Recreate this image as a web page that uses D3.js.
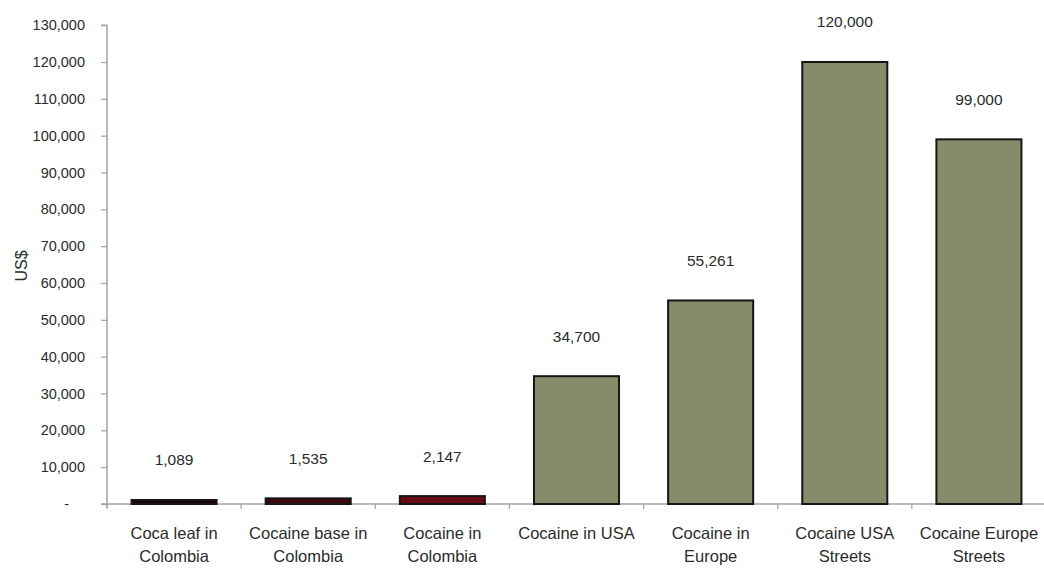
<!DOCTYPE html>
<html>
<head>
<meta charset="utf-8">
<script src="https://cdn.jsdelivr.net/npm/d3@7"></script>
<style>
  html, body { margin: 0; padding: 0; background: #ffffff; }
  svg { display: block; font-family: "Liberation Sans", Arial, sans-serif; }
</style>
</head>
<body>
<svg id="chart" width="1044" height="571"></svg>
<script>
// Price of cocaine along the supply chain (US$ per kg equivalent)
const categories = [
  "Coca leaf in\nColombia",
  "Cocaine base in\nColombia",
  "Cocaine in\nColombia",
  "Cocaine in USA",
  "Cocaine in\nEurope",
  "Cocaine USA\nStreets",
  "Cocaine Europe\nStreets"
];
const values = [1089, 1535, 2147, 34700, 55261, 120000, 99000];
const yTicks = [0, 10000, 20000, 30000, 40000, 50000, 60000, 70000, 80000, 90000, 100000, 110000, 120000, 130000];
const yTitle = "US$";

// Fill colours: dark reds for the Colombian stages, olive for the export markets
const fills = ["#1e0608", "#3c080b", "#6a0913", "#868b6a", "#868b6a", "#868b6a", "#868b6a"];

const svg = d3.select("#chart");
const x0 = 107, x1 = 1046;

const x = d3.scaleBand()
  .domain(categories)
  .range([x0, x1])
  .paddingInner(0.366)
  .paddingOuter(0.183);

const y = d3.scaleLinear()
  .domain([0, 120000])
  .range([504, 62]);

const textColor = "#2b2b2b";
const axisColor = "#a3a3a3";

// Y axis
const yAxis = svg.append("g")
  .attr("transform", `translate(${x0},0)`)
  .call(d3.axisLeft(y)
    .tickValues(yTicks)
    .tickSize(6)
    .tickPadding(16)
    .tickFormat(d => d === 0 ? "-" : d3.format(",")(d)));
yAxis.select(".domain").attr("stroke", axisColor).attr("stroke-width", 1.5)
  .attr("d", `M-6,${y(130000)}H0V${y(0) + 4}`);
yAxis.selectAll(".tick line").attr("stroke", axisColor).attr("stroke-width", 1.2);
yAxis.selectAll(".tick text")
  .attr("fill", textColor)
  .style("font-size", "14.5px")
  .attr("dx", d => d === 0 ? -16 : 0);

// X axis: baseline with small separators between categories
const xAxis = svg.append("g").attr("transform", `translate(0,${y(0)})`);
xAxis.append("line")
  .attr("x1", x0 - 6).attr("x2", 1044)
  .attr("stroke", axisColor).attr("stroke-width", 1.5);
const bounds = d3.range(categories.length + 1).map(i => x0 + i * x.step());
xAxis.selectAll("line.sep")
  .data(bounds)
  .join("line")
  .attr("class", "sep")
  .attr("x1", d => d).attr("x2", d => d)
  .attr("y1", 0).attr("y2", 5)
  .attr("stroke", axisColor).attr("stroke-width", 1.2);

// Bars
svg.append("g")
  .selectAll("rect")
  .data(values)
  .join("rect")
  .attr("x", (d, i) => x(categories[i]))
  .attr("y", d => y(d))
  .attr("width", x.bandwidth())
  .attr("height", d => y(0) - y(d))
  .attr("fill", (d, i) => fills[i])
  .attr("stroke", "#161616")
  .attr("stroke-width", 2);

// Value labels above each bar
svg.append("g")
  .selectAll("text")
  .data(values)
  .join("text")
  .attr("x", (d, i) => x(categories[i]) + x.bandwidth() / 2)
  .attr("y", d => y(d) - 40)
  .attr("dy", "0.35em")
  .attr("text-anchor", "middle")
  .attr("fill", textColor)
  .style("font-size", "15.5px")
  .text(d => d3.format(",")(d));

// Category labels, split over two lines
const catG = svg.append("g");
categories.forEach(c => {
  const t = catG.append("text")
    .attr("x", x(c) + x.bandwidth() / 2)
    .attr("y", 539)
    .attr("text-anchor", "middle")
    .attr("fill", textColor)
    .style("font-size", "16.5px");
  c.split("\n").forEach((line, j) => {
    t.append("tspan")
      .attr("x", x(c) + x.bandwidth() / 2)
      .attr("dy", j === 0 ? 0 : 23)
      .text(line);
  });
});

// Y axis title
svg.append("text")
  .attr("transform", `translate(27,266) rotate(-90)`)
  .attr("text-anchor", "middle")
  .attr("fill", textColor)
  .style("font-size", "16px")
  .text(yTitle);
</script>
</body>
</html>
